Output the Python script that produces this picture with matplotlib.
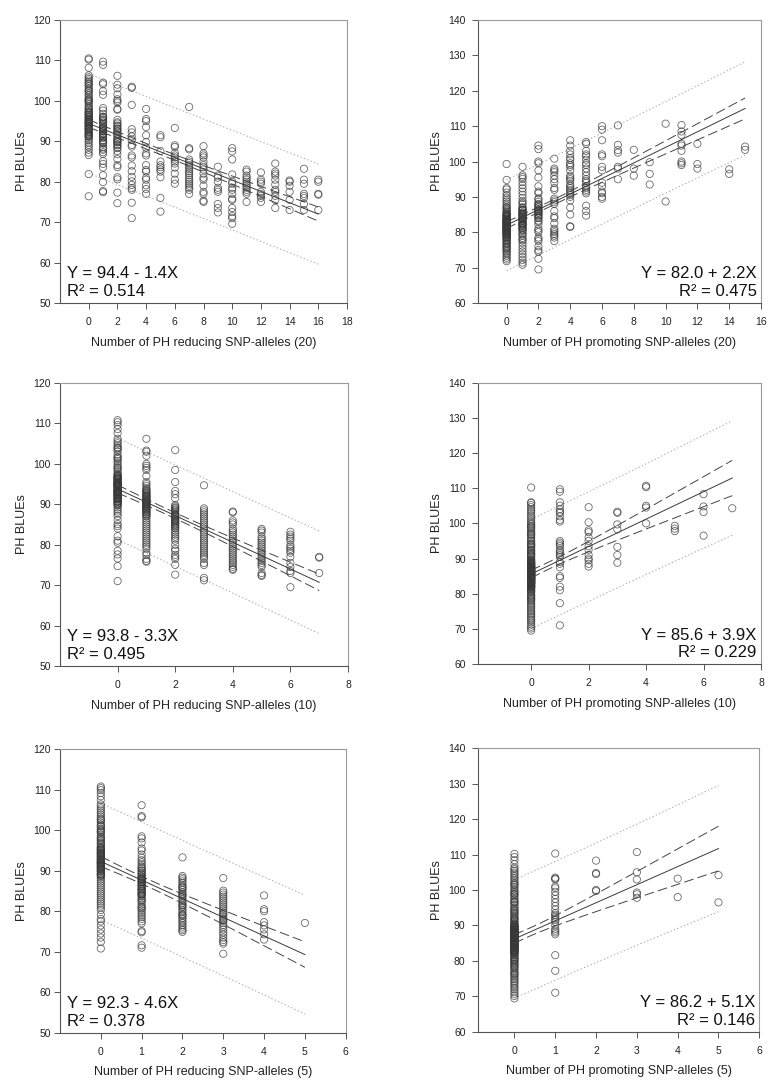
import numpy as np
import matplotlib
matplotlib.use("Agg")
import matplotlib.pyplot as plt

plt.rcParams['font.family'] = ['Liberation Sans', 'DejaVu Sans']
plt.rcParams['lines.scale_dashes'] = False

# ---------------- data ----------------
r20_x = list(range(0, 17))
r20_y = [
    [110.5, 110.2, 108.2, 106.3, 105.8, 105.4, 105.0, 104.6, 104.1, 103.7, 103.2, 102.8, 102.3, 101.8, 101.4,
     100.9, 100.5, 100.1, 99.6, 99.2, 98.7, 98.3, 97.8, 97.4, 96.9, 96.5, 96.0, 95.6, 95.1, 94.7, 94.2, 93.8,
     93.3, 92.9, 92.4, 91.9, 91.5, 91.1, 90.6, 90.2, 89.7, 89.1, 88.6, 87.9, 87.2, 86.6, 81.9, 76.4, 99.9, 98.1,
     96.2, 95.3, 94.4, 93.1, 91.3, 97.1, 100.3, 102.5, 104.3, 92.2,
     91.2, 91.7, 92.5, 93.0, 93.5, 94.0, 94.5, 95.0, 95.5, 96.0, 96.6, 97.2, 94.8, 93.7],
    [109.7, 108.9, 104.5, 104.1, 102.4, 101.5, 98.2, 97.6, 96.8, 96.1, 95.4, 94.9, 94.3, 93.6, 93.0, 92.4, 91.9,
     91.3, 90.8, 90.1, 89.4, 88.6, 87.9, 87.3, 86.9, 85.1, 84.4, 83.5, 81.6, 79.9, 77.7, 77.4, 92.7, 91.6, 93.3,
     95.8, 89.8, 88.2,
     89.6, 90.3, 91.0, 91.8, 92.5, 93.2, 93.9, 94.6, 95.3, 96.0],
    [106.2, 104.0, 103.1, 101.6, 100.4, 100.0, 99.6, 98.0, 97.8, 95.3, 94.4, 93.7, 92.6, 91.6, 90.6, 89.8, 89.2,
     88.5, 87.6, 86.8, 85.6, 84.1, 83.6, 81.1, 80.6, 77.3, 74.7, 90.1, 93.2,
     88.3, 89.0, 89.7, 90.4, 91.1, 91.8, 92.4, 93.0, 93.9, 94.7],
    [103.5, 103.2, 99.0, 93.0, 92.2, 91.2, 90.4, 89.1, 88.7, 86.5, 86.0, 84.0, 82.6, 81.2, 80.1, 79.2, 78.4, 78.0,
     74.8, 71.0],
    [98.0, 95.5, 95.0, 93.5, 91.5, 89.8, 88.4, 87.0, 86.5, 84.1, 82.9, 82.5, 81.0, 80.5, 79.1, 78.2, 77.0],
    [91.5, 91.0, 87.6, 85.0, 84.1, 83.6, 83.0, 82.5, 81.1, 76.0, 72.6],
    [93.3, 89.0, 88.6, 87.1, 86.5, 86.0, 85.5, 85.0, 84.5, 83.5, 82.0, 80.5, 79.5],
    [98.5, 88.3, 88.0, 85.5, 85.0, 84.6, 84.1, 83.6, 83.1, 82.6, 82.1, 81.6, 81.0, 80.5, 80.0, 79.5, 79.0, 78.5,
     78.0, 77.0],
    [88.8, 87.0, 86.5, 86.0, 85.0, 84.1, 83.6, 83.0, 82.0, 81.0, 80.5, 79.0, 77.5, 77.0, 75.3, 75.0],
    [83.7, 81.5, 81.0, 80.0, 78.5, 78.0, 77.5, 74.5, 73.5, 72.4],
    [88.3, 87.5, 85.5, 81.8, 80.0, 79.5, 78.5, 78.0, 77.0, 75.8, 75.5, 73.5, 72.5, 71.5, 71.0, 69.6],
    [83.0, 82.5, 81.5, 81.0, 80.5, 80.0, 79.5, 79.0, 78.5, 78.0, 77.5, 77.0, 75.0],
    [82.3, 80.5, 80.0, 79.5, 77.5, 77.0, 76.5, 76.0, 75.0],
    [84.5, 82.5, 82.0, 81.5, 80.5, 79.3, 78.0, 77.5, 76.5, 75.5, 73.5],
    [80.3, 80.0, 79.0, 77.5, 75.5, 73.0],
    [83.2, 80.5, 79.5, 77.0, 76.5, 76.0, 74.5, 73.0],
    [80.5, 80.0, 77.0, 76.8, 73.0],
]

p20_x = [0, 1, 2, 3, 4, 5, 6, 7, 8, 9, 10, 11, 12, 14, 15]
p20_y = [
    [99.3, 94.8, 92.5, 92.1, 91.2, 90.4, 89.8, 89.2, 88.7, 88.1, 87.6, 87.1, 86.6, 86.2, 85.8, 85.4, 85.0, 84.6,
     84.2, 83.8, 83.4, 83.0, 82.6, 82.2, 81.8, 81.4, 81.0, 80.6, 80.2, 79.8, 79.4, 79.0, 78.6, 78.2, 77.8, 77.4,
     77.0, 76.6, 76.2, 75.8, 75.4, 75.0, 74.6, 74.2, 73.8, 73.3, 72.8, 72.3, 71.8, 84.9, 83.7, 82.9, 81.6, 80.9,
     80.1, 79.2, 78.4, 77.7, 86.9, 85.6, 76.8, 75.6, 83.1, 81.2,
     78.6, 79.1, 79.5, 79.9, 80.3, 80.7, 81.1, 81.5, 81.9, 82.3, 82.7, 83.1, 83.5, 83.9, 84.3, 84.7, 85.1, 79.7,
     80.5, 81.3, 82.1, 82.9, 83.6, 84.4, 80.0, 81.7, 82.5, 83.3, 81.0, 82.8],
    [98.5, 96.1, 95.6, 95.1, 94.2, 93.3, 92.4, 91.5, 90.6, 89.7, 88.8, 87.9, 87.0, 86.2, 85.5, 84.8, 84.0, 83.3,
     82.6, 81.9, 81.2, 80.5, 79.8, 79.1, 78.4, 77.7, 77.0, 76.2, 75.4, 74.6, 73.8, 73.0, 72.2, 71.4, 70.8, 88.3,
     85.1, 83.7, 82.2, 80.8, 79.5, 78.0,
     80.7, 81.2, 81.7, 82.1, 82.6, 83.0, 83.5, 83.9, 84.3, 84.7, 85.2, 85.6, 86.1, 86.5, 87.0, 82.4, 83.7, 84.9,
     86.3, 84.1],
    [104.5, 103.5, 100.0, 99.5, 97.5, 95.5, 93.0, 91.5, 91.0, 89.5, 88.0, 87.0, 86.5, 86.0, 85.5, 84.5, 84.0,
     83.0, 81.0, 80.5, 80.0, 78.5, 78.0, 77.5, 76.0, 75.0, 74.5, 72.5, 69.5, 87.6, 85.1, 82.2,
     83.3, 84.1, 84.8, 85.6, 86.3, 87.1, 87.8, 88.6, 89.3, 86.0],
    [100.8, 98.0, 97.5, 97.0, 96.0, 95.0, 94.0, 92.5, 92.0, 89.5, 89.0, 88.5, 88.0, 86.0, 84.5, 84.0, 82.5, 81.0,
     80.5, 80.0, 79.5, 79.0, 78.5, 77.5],
    [106.0, 104.5, 103.0, 102.0, 101.0, 100.5, 99.5, 99.0, 98.5, 97.5, 96.0, 95.5, 95.0, 94.5, 93.5, 93.0, 92.5,
     92.0, 91.5, 91.0, 90.5, 90.0, 89.0, 87.0, 85.0, 81.7, 81.5],
    [105.5, 105.0, 103.0, 102.0, 101.5, 100.5, 99.5, 99.0, 98.0, 97.0, 96.0, 95.0, 94.5, 94.0, 93.0, 92.5, 92.0,
     91.5, 91.0, 87.5, 86.0, 84.7],
    [110.0, 109.0, 106.0, 102.0, 101.5, 98.5, 97.5, 94.0, 93.0, 91.5, 91.0, 90.0, 89.5],
    [110.2, 104.7, 103.2, 102.5, 98.5, 98.0, 95.0],
    [103.3, 98.0, 96.0],
    [99.8, 96.5, 93.5],
    [110.7, 88.7],
    [110.3, 108.5, 107.5, 105.0, 104.5, 103.0, 100.0, 99.5, 99.0],
    [105.0, 99.3, 98.0],
    [97.8, 96.5],
    [104.2, 103.3],
]

r10_x = [0, 1, 2, 3, 4, 5, 6, 7]
r10_y = [
    [110.8, 110.3, 109.6, 108.6, 107.6, 106.2, 105.6, 105.1, 104.6, 104.1, 103.6, 103.1, 102.3, 101.7, 101.2,
     100.7, 100.2, 99.7, 99.2, 98.7, 98.2, 97.7, 97.2, 96.7, 96.2, 95.7, 95.2, 94.7, 94.2, 93.7, 93.2, 92.7,
     92.2, 91.7, 91.2, 90.7, 90.2, 89.7, 89.2, 88.7, 88.2, 87.7, 87.1, 86.1, 85.1, 84.6, 84.0, 82.1, 81.0, 80.5,
     78.5, 77.6, 76.6, 74.7, 71.0, 101.5, 99.0, 97.0, 95.0, 93.0, 91.5, 89.9, 103.9, 96.4, 94.4,
     90.1, 90.5, 90.9, 91.3, 91.6, 91.9, 92.3, 92.6, 92.9, 93.3, 93.6, 93.9, 94.3, 94.6, 94.9, 95.3, 95.6, 95.9,
     96.3, 96.6, 96.9, 97.3, 90.7, 91.4, 92.1, 92.8, 93.5, 94.1, 94.8, 95.4, 96.1, 93.1, 94.5, 92.4, 95.1],
    [106.2, 103.3, 103.0, 102.0, 100.0, 99.5, 99.0, 98.5, 97.0, 95.5, 95.0, 94.5, 94.0, 93.5, 93.0, 92.5, 92.0,
     91.5, 91.0, 90.5, 90.0, 89.5, 89.0, 88.5, 88.0, 87.5, 87.0, 86.5, 86.0, 85.5, 85.0, 84.5, 84.0, 83.5, 83.0,
     82.5, 82.0, 81.5, 81.0, 80.5, 80.0, 79.5, 79.0, 78.0, 77.5, 76.5, 76.0, 75.8,
     87.2, 87.6, 88.0, 88.3, 88.7, 89.1, 89.4, 89.8, 90.2, 90.6, 90.9, 91.3, 91.7, 92.1, 92.4, 92.8, 93.2, 93.6,
     88.9, 89.6, 90.4, 91.1, 91.9, 90.1, 90.7],
    [103.4, 98.5, 95.5, 93.3, 92.5, 91.5, 89.5, 89.0, 88.5, 87.5, 87.0, 86.5, 86.0, 85.5, 85.0, 84.5, 84.0, 83.5,
     83.0, 82.5, 82.0, 81.5, 81.0, 80.0, 79.0, 78.5, 77.5, 77.0, 76.5, 75.0, 72.6,
     84.2, 84.8, 85.3, 85.8, 86.3, 86.8, 87.2, 87.7, 88.2, 88.7, 89.2, 89.8, 86.1, 87.4],
    [94.7, 89.0, 88.5, 88.0, 87.5, 87.0, 86.5, 86.0, 85.5, 85.0, 84.5, 84.0, 83.5, 83.0, 82.5, 82.0, 81.5, 81.0,
     80.5, 80.0, 79.5, 79.0, 78.5, 78.0, 77.5, 77.0, 76.5, 75.5, 75.0, 71.8, 71.2],
    [88.2, 88.0, 86.0, 85.5, 85.0, 84.0, 83.5, 83.0, 82.5, 82.0, 81.5, 81.0, 80.5, 80.0, 79.5, 79.0, 78.5, 78.0,
     77.5, 77.0, 76.5, 76.0, 75.5, 75.0, 74.5, 74.0, 73.8],
    [83.9, 83.5, 83.0, 82.0, 81.5, 81.0, 80.5, 80.0, 79.5, 79.0, 78.5, 78.0, 77.5, 77.0, 76.5, 76.0, 75.5, 75.0,
     74.5, 73.0, 72.5, 72.3],
    [83.2, 82.5, 82.0, 81.5, 81.0, 80.0, 79.5, 79.0, 78.5, 78.0, 77.0, 75.5, 74.5, 73.5, 73.0, 69.5],
    [77.0, 76.8, 73.0],
]

p10_x = [0, 1, 2, 3, 4, 5, 6, 7]
p10_y = [
    [110.2, 106.0, 105.8, 105.2, 104.6, 104.0, 103.5, 102.9, 102.3, 101.8, 101.2, 100.6, 100.1, 99.7, 99.3, 98.8,
     98.4, 97.9, 97.5, 97.0, 96.6, 96.1, 95.7, 95.2, 94.8, 94.3, 93.9, 93.4, 93.0, 92.5, 92.1, 91.6, 91.2, 90.7,
     90.3, 89.8, 89.4, 88.9, 88.5, 88.0, 87.6, 87.1, 86.7, 86.2, 85.8, 85.3, 84.9, 84.4, 84.0, 83.5, 83.1, 82.6,
     82.2, 81.7, 81.3, 80.8, 80.4, 79.9, 79.5, 79.0, 78.6, 78.1, 77.7, 77.2, 76.8, 76.3, 75.9, 75.4, 75.0, 74.5,
     74.1, 73.6, 73.2, 72.7, 72.3, 71.8, 71.2, 70.6, 70.1, 69.5, 88.3, 86.9, 85.6, 84.2, 83.8, 82.9, 81.9, 80.6,
     79.3, 78.4, 89.7, 90.9, 92.3, 93.6, 87.4, 85.1, 83.3, 81.1, 86.4, 84.7, 96.9, 94.1, 91.4, 99.0,
     81.6, 82.0, 82.3, 82.7, 83.0, 83.4, 83.7, 84.0, 84.3, 84.6, 84.9, 85.2, 85.5, 85.7, 86.0, 86.3, 86.6, 86.9,
     87.2, 87.5, 87.8, 88.1, 88.4, 88.7, 89.0, 89.3, 81.9, 82.5, 83.2, 83.9, 84.5, 85.0, 85.4, 85.9, 86.4, 87.0,
     87.6, 88.2, 88.9, 82.2, 83.1, 83.6, 84.2, 84.8, 85.3, 85.8, 86.2, 86.7, 87.3, 87.9, 88.6, 82.8, 83.3, 84.1,
     84.7, 85.1, 85.6, 86.1, 86.5, 87.1, 87.7, 84.4, 85.9, 86.8, 83.5, 84.6, 85.4, 86.3, 87.4, 83.8, 85.7, 86.9,
     84.9, 86.0, 85.2],
    [109.7, 109.0, 106.0, 105.0, 104.0, 103.3, 103.0, 102.0, 101.0, 100.5, 95.0, 94.5, 94.0, 93.5, 92.5, 92.0,
     91.5, 91.0, 90.5, 89.0, 88.5, 87.5, 85.0, 84.5, 82.0, 81.0, 77.3, 71.0],
    [104.6, 100.3, 98.0, 97.5, 96.0, 95.0, 93.5, 92.5, 91.0, 90.0, 89.5, 88.5, 87.7],
    [103.3, 103.0, 99.7, 98.3, 93.3, 91.0, 88.8],
    [110.7, 110.3, 105.0, 104.5, 100.0],
    [99.3, 98.5, 97.8],
    [108.3, 104.8, 103.2, 96.5],
    [104.3],
]

r5_x = [0, 1, 2, 3, 4, 5]
r5_y = [
    [110.8, 110.4, 109.9, 109.2, 108.4, 107.5, 106.4, 105.9, 105.4, 104.9, 104.4, 103.9, 103.4, 102.9, 102.4,
     101.9, 101.4, 100.9, 100.4, 99.9, 99.4, 98.9, 98.4, 97.9, 97.4, 96.9, 96.4, 95.9, 95.4, 94.9, 94.4, 93.9,
     93.4, 92.9, 92.4, 91.9, 91.4, 90.9, 90.4, 89.9, 89.4, 88.9, 88.4, 87.9, 87.4, 86.9, 86.4, 85.9, 85.4, 84.9,
     84.4, 83.9, 83.4, 82.9, 82.4, 81.9, 81.4, 80.9, 80.3, 79.2, 78.1, 77.5, 76.5, 75.5, 74.5, 73.5, 72.4, 70.8,
     98.2, 96.7, 95.1, 93.6, 92.1, 90.6, 97.6, 94.1, 91.1, 99.6, 101.1, 102.6, 89.1, 100.1, 95.6, 92.6,
     88.7, 89.2, 89.8, 90.3, 90.8, 91.2, 91.7, 92.2, 92.7, 93.1, 93.6, 94.2, 94.7, 95.2, 95.8, 90.0, 91.5, 92.9,
     94.4, 91.9],
    [106.2, 103.5, 103.2, 98.5, 98.0, 97.0, 95.5, 95.0, 94.0, 93.2, 92.6, 92.1, 91.6, 91.1, 90.6, 90.1, 89.6,
     89.1, 88.6, 88.1, 87.6, 87.1, 86.6, 86.1, 85.6, 85.1, 84.6, 84.1, 83.6, 83.1, 82.6, 82.1, 81.6, 81.1, 80.6,
     80.1, 79.6, 79.1, 78.6, 78.1, 77.5, 77.0, 75.1, 74.8, 71.6, 71.0, 88.3, 86.3, 84.3, 82.8, 80.9, 85.4, 87.9,
     83.9, 84.2, 84.9, 85.5, 86.2, 86.8, 87.4, 88.0, 88.7, 89.3, 90.0, 90.7, 87.2],
    [93.3, 88.7, 88.3, 87.9, 87.4, 87.0, 86.5, 86.1, 85.6, 85.2, 84.7, 84.3, 83.8, 83.4, 82.9, 82.5, 82.0, 81.6,
     81.1, 80.7, 80.2, 79.8, 79.3, 78.9, 78.4, 78.0, 77.5, 77.1, 76.6, 76.2, 75.7, 75.3, 74.9, 84.0, 81.4, 79.0,
     85.9],
    [88.2, 85.1, 84.6, 84.1, 83.6, 83.1, 82.6, 82.1, 81.6, 81.1, 80.6, 80.1, 79.6, 79.1, 78.6, 78.1, 77.6, 77.1,
     76.6, 76.1, 75.5, 74.8, 74.2, 73.5, 72.9, 72.4, 72.0, 69.5, 79.4, 77.9],
    [83.9, 80.5, 80.0, 77.3, 76.5, 75.5, 74.3, 73.0],
    [77.1],
]

p5_x = [0, 1, 2, 3, 4, 5]
p5_y = [
    [110.2, 109.3, 108.4, 107.3, 106.3, 105.9, 105.4, 104.9, 104.4, 103.9, 103.4, 102.9, 102.4, 101.9, 101.4,
     100.9, 100.4, 99.9, 99.5, 99.1, 98.6, 98.2, 97.7, 97.3, 96.8, 96.4, 95.9, 95.5, 95.0, 94.6, 94.1, 93.7,
     93.2, 92.8, 92.3, 91.9, 91.4, 91.0, 90.5, 90.1, 89.6, 89.2, 88.7, 88.3, 87.8, 87.4, 86.9, 86.5, 86.0, 85.6,
     85.1, 84.7, 84.2, 83.8, 83.3, 82.9, 82.4, 82.0, 81.5, 81.1, 80.6, 80.2, 79.7, 79.3, 78.8, 78.4, 77.9, 77.5,
     77.0, 76.6, 76.1, 75.7, 75.2, 74.8, 74.3, 73.9, 73.4, 72.9, 72.4, 71.9, 71.3, 70.7, 70.1, 69.4, 88.1, 86.7,
     85.4, 84.0, 83.6, 82.7, 81.7, 80.4, 79.1, 78.2, 89.5, 90.7, 92.1, 93.4, 87.2, 84.9, 83.1, 80.9, 86.2, 84.5,
     96.6, 94.3, 91.6, 98.9, 101.6, 88.9, 87.6, 82.2, 79.9, 76.4,
     82.1, 82.5, 82.9, 83.2, 83.6, 83.9, 84.1, 84.4, 84.8, 85.0, 85.3, 85.5, 85.8, 86.1, 86.3, 86.6, 86.8, 87.1,
     87.3, 87.5, 87.9, 88.2, 88.4, 88.6, 88.9, 89.1, 89.4, 89.7, 90.0, 90.3, 82.7, 83.4, 84.6, 85.2, 85.7, 86.4,
     86.9, 87.6, 88.0, 88.8, 89.3, 89.9, 83.0, 84.2, 85.4, 86.0, 86.7, 87.4, 88.1, 88.7, 84.9, 85.9, 87.0, 87.8,
     83.7, 86.2, 85.1, 88.3, 84.5, 86.5],
    [110.3, 103.5, 103.2, 103.0, 101.0, 100.5, 99.5, 98.5, 97.5, 96.5, 95.5, 94.5, 93.5, 93.0, 92.5, 92.0, 91.5,
     91.0, 90.0, 89.0, 88.5, 88.0, 87.5, 81.6, 77.2, 71.0],
    [108.3, 104.8, 104.5, 100.0, 99.7],
    [110.7, 105.0, 103.0, 99.3, 98.8, 97.8],
    [103.2, 98.0],
    [104.2, 96.5],
]

# regression equations printed on the panels
intercepts = [94.4, 82.0, 93.8, 85.6, 92.3, 86.2]
slopes = [-1.4, 2.2, -3.3, 3.9, -4.6, 5.1]
r2_values = [0.514, 0.475, 0.495, 0.229, 0.378, 0.146]
x_labels = ["Number of PH reducing SNP-alleles (20)", "Number of PH promoting SNP-alleles (20)",
            "Number of PH reducing SNP-alleles (10)", "Number of PH promoting SNP-alleles (10)",
            "Number of PH reducing SNP-alleles (5)", "Number of PH promoting SNP-alleles (5)"]
y_label = "PH BLUEs"

panels_x = [r20_x, p20_x, r10_x, p10_x, r5_x, p5_x]
panels_y = [r20_y, p20_y, r10_y, p10_y, r5_y, p5_y]

# ---------------- layout ----------------
W, H = 782, 1089
fig = plt.figure(figsize=(W / 100, H / 100), dpi=100)

rects_px = [  # left, top, right, bottom in pixels
    (60, 20, 347, 303),
    (478, 20, 761, 303),
    (60, 383, 348, 666),
    (478, 382.7, 761, 664),
    (60, 749.3, 345.7, 1032.7),
    (477.7, 748.3, 759.3, 1031.7),
]
xlims = [(-2, 18), (-1.8, 16), (-2, 8), (-1.85, 8), (-1, 6), (-0.9, 6)]
xticks = [np.arange(0, 19, 2), np.arange(0, 17, 2), np.arange(0, 9, 2), np.arange(0, 9, 2),
          np.arange(0, 7, 1), np.arange(0, 7, 1)]

spine_dark = '#555555'
spine_light = '#9a9a9a'

for i in range(6):
    l, t, r, b = rects_px[i]
    ax = fig.add_axes([l / W, 1 - b / H, (r - l) / W, (b - t) / H])
    left_col = (i % 2 == 0)

    xs = np.concatenate([np.full(len(v), xv, dtype=float) for xv, v in zip(panels_x[i], panels_y[i])])
    ys = np.concatenate([np.asarray(v, dtype=float) for v in panels_y[i]])

    ax.scatter(xs, ys, s=27, facecolors='none', edgecolors=(0.22, 0.22, 0.22, 0.75),
               linewidths=0.6, zorder=3)

    # fitted line with 95% confidence and prediction bands
    a, bsl = intercepts[i], slopes[i]
    n = len(xs)
    xbar = xs.mean()
    sxx = ((xs - xbar) ** 2).sum()
    resid = ys - (a + bsl * xs)
    s = np.sqrt((resid ** 2).sum() / (n - 2))
    tval = 1.97
    xg = np.linspace(0, max(panels_x[i]), 200)
    yhat = a + bsl * xg
    ci = tval * s * np.sqrt(1.0 / n + (xg - xbar) ** 2 / sxx)
    pi = tval * s * np.sqrt(1 + 1.0 / n + (xg - xbar) ** 2 / sxx)

    ax.plot(xg, yhat, color='#3a3a3a', lw=0.7, zorder=4)
    for sign in (1, -1):
        ax.plot(xg, yhat + sign * ci, color='#444444', lw=0.7, dashes=(7, 3), zorder=4)
        ax.plot(xg, yhat + sign * pi, color='#a8a8a8', lw=0.7, dashes=(1, 1.6), zorder=2)

    ax.set_xlim(*xlims[i])
    ax.set_xticks(xticks[i])
    if left_col:
        ax.set_ylim(50, 120)
        ax.set_yticks(np.arange(50, 121, 10))
    else:
        ax.set_ylim(60, 140)
        ax.set_yticks(np.arange(60, 141, 10))

    for side in ('left', 'bottom'):
        ax.spines[side].set_color(spine_dark)
        ax.spines[side].set_linewidth(0.8)
    for side in ('top', 'right'):
        ax.spines[side].set_color(spine_light)
        ax.spines[side].set_linewidth(0.8)

    ax.tick_params(axis='both', direction='out', length=4, width=0.7, color=spine_dark,
                   labelsize=7.5, labelcolor='#222222', top=False, right=False)
    ax.tick_params(axis='x', pad=6)
    ax.tick_params(axis='y', pad=2.5 if left_col else 4.7)

    ax.set_xlabel(x_labels[i], fontsize=9, color='#222222', labelpad=7)
    ax.set_ylabel(y_label, fontsize=9, color='#222222', labelpad=4)

    sign_txt = '-' if bsl < 0 else '+'
    eq = f"Y = {a:.1f} {sign_txt} {abs(bsl):.1f}X"
    r2 = f"R\u00b2 = {r2_values[i]:.3f}"
    if left_col:
        ax.text(0.023, 0.087, eq, transform=ax.transAxes, fontsize=12, ha='left', va='baseline', color='#111111')
        ax.text(0.023, 0.025, r2, transform=ax.transAxes, fontsize=12, ha='left', va='baseline', color='#111111')
    else:
        ax.text(0.985, 0.087, eq, transform=ax.transAxes, fontsize=12, ha='right', va='baseline', color='#111111')
        ax.text(0.985, 0.025, r2, transform=ax.transAxes, fontsize=12, ha='right', va='baseline', color='#111111')

fig.savefig("out.png", dpi=100)
